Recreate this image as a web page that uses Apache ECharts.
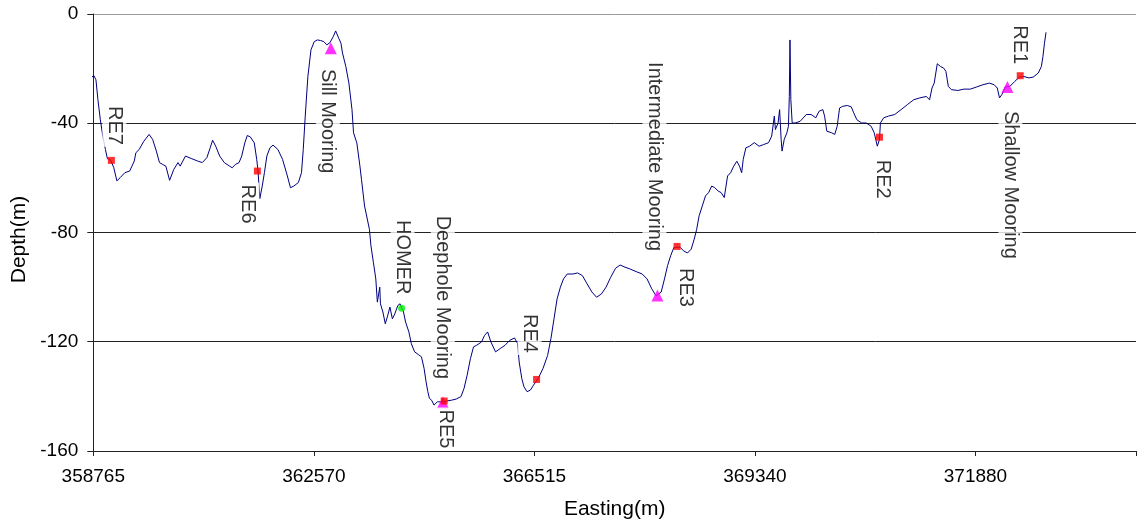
<!DOCTYPE html>
<html><head><meta charset="utf-8">
<script src="https://cdn.jsdelivr.net/npm/echarts@6/dist/echarts.min.js"></script>
<style>html,body{margin:0;padding:0;background:#fff}#c{width:1139px;height:525px}</style>
</head><body><div id="c"></div>
<script>
// x values are positions along the section in "tick" units (one unit between labelled ticks)
const tickLabels = ['358765', '362570', '366515', '369340', '371880'];

const profileX = [
-0.026,-0.007,0.003,0.012,0.021,0.032,0.043,0.055,0.064,0.079,0.093,0.107,0.122,0.143,0.165,0.172,0.186,0.193,0.208,0.229,
0.253,0.269,0.286,0.300,0.315,0.329,0.346,0.365,0.384,0.394,0.403,0.418,0.444,0.472,0.494,0.515,0.530,0.541,0.555,0.573,
0.594,0.618,0.630,0.644,0.661,0.673,0.687,0.698,0.712,0.730,0.741,0.747,0.755,0.766,0.776,0.787,0.801,0.815,0.837,0.858,
0.880,0.894,0.909,0.930,0.944,0.952,0.961,0.973,0.987,1.002,1.016,1.030,1.045,1.059,1.073,1.088,1.099,1.113,1.123,1.130,
1.145,1.159,1.173,1.180,1.195,1.209,1.216,1.230,1.252,1.259,1.270,1.281,1.288,1.299,1.302,1.313,1.324,1.333,1.345,1.356,
1.367,1.381,1.391,1.398,1.405,1.416,1.431,1.442,1.457,1.474,1.488,1.500,1.509,1.517,1.524,1.534,1.545,1.560,1.581,1.603,
1.624,1.645,1.667,1.681,1.695,1.710,1.724,1.738,1.760,1.774,1.788,1.803,1.824,1.845,1.867,1.888,1.910,1.924,1.931,1.943,
1.953,1.967,1.982,1.996,2.017,2.039,2.060,2.075,2.089,2.103,2.118,2.132,2.149,2.175,2.196,2.218,2.239,2.261,2.282,2.304,
2.325,2.346,2.368,2.389,2.411,2.432,2.461,2.489,2.511,2.532,2.552,2.575,2.590,2.604,2.618,2.633,2.661,2.676,2.694,2.711,
2.725,2.736,2.747,2.776,2.790,2.804,2.818,2.833,2.847,2.861,2.869,2.876,2.890,2.904,2.918,2.930,2.940,2.947,2.959,2.976,
2.997,3.019,3.040,3.062,3.076,3.088,3.093,3.105,3.112,3.119,3.123,3.133,3.145,3.152,3.156,3.159,3.163,3.169,3.183,3.205,
3.233,3.255,3.276,3.291,3.308,3.316,3.326,3.348,3.362,3.373,3.384,3.398,3.419,3.437,3.448,3.462,3.484,3.505,3.527,3.541,
3.555,3.565,3.569,3.584,3.605,3.634,3.663,3.691,3.720,3.748,3.777,3.792,3.803,3.813,3.827,3.841,3.856,3.866,3.877,3.891,
3.920,3.948,3.977,4.006,4.034,4.063,4.085,4.099,4.109,4.120,4.135,4.156,4.178,4.199,4.220,4.242,4.262,4.285,4.299,4.306,
4.313,4.320
];
const profileDepth = [
-24.7,-23.1,-22.6,-24.1,-31.4,-38.7,-44.7,-49.6,-53.0,-53.6,-56.3,-61.1,-59.9,-58.1,-57.5,-56.9,-53.8,-50.8,-49.6,-46.6,
-44.1,-45.9,-50.2,-54.4,-55.1,-55.7,-60.9,-56.9,-54.4,-55.7,-55.7,-52.0,-52.9,-53.8,-54.4,-52.6,-49.0,-46.2,-48.4,-52.0,
-54.4,-55.7,-56.3,-55.1,-54.4,-52.0,-47.2,-44.5,-45.0,-47.2,-53.2,-57.5,-67.6,-63.0,-58.1,-52.0,-49.0,-48.0,-49.6,-53.2,
-59.3,-63.6,-63.0,-61.7,-58.1,-49.6,-37.4,-22.9,-13.1,-10.1,-9.5,-9.7,-10.1,-11.3,-10.5,-8.3,-6.2,-8.9,-10.7,-14.3,
-19.2,-25.3,-35.0,-43.5,-47.2,-55.7,-60.5,-70.3,-78.8,-84.9,-90.9,-97.0,-105.5,-100.0,-106.1,-109.1,-113.4,-111.0,-107.3,-111.6,
-109.8,-106.7,-106.1,-107.7,-108.5,-112.8,-116.4,-120.7,-123.7,-124.7,-125.5,-129.8,-134.7,-138.3,-140.7,-141.4,-143.2,-142.0,-142.0,-141.7,
-141.4,-141.0,-140.1,-137.1,-132.3,-126.2,-121.9,-121.3,-120.1,-117.7,-116.4,-120.1,-123.7,-122.5,-121.3,-119.5,-118.6,-120.7,-127.4,-133.5,
-136.5,-138.3,-137.7,-135.9,-133.5,-129.8,-125.0,-118.9,-111.6,-104.3,-100.0,-97.0,-95.2,-95.2,-94.8,-95.8,-98.8,-101.8,-103.7,-102.5,
-100.0,-96.4,-93.1,-91.9,-92.7,-93.3,-94.3,-95.2,-97.0,-100.6,-103.2,-101.8,-97.0,-92.1,-88.5,-85.4,-85.4,-86.7,-87.5,-86.1,
-82.4,-78.8,-73.9,-66.6,-65.4,-63.0,-63.6,-64.8,-65.4,-67.2,-63.0,-59.3,-58.1,-55.7,-53.9,-55.7,-58.1,-53.2,-49.0,-48.4,
-47.1,-48.4,-47.8,-47.1,-44.7,-37.4,-42.3,-39.9,-35.0,-45.9,-50.2,-45.9,-43.5,-41.1,-30.2,-9.5,-31.4,-39.9,-39.9,-39.3,
-36.8,-36.8,-38.0,-35.6,-35.0,-37.4,-42.9,-43.5,-44.1,-41.1,-34.4,-33.8,-33.5,-34.0,-36.2,-38.7,-39.9,-39.9,-41.1,-43.5,
-48.4,-45.9,-39.9,-38.0,-37.4,-36.8,-35.0,-33.2,-31.4,-30.7,-30.2,-31.4,-27.1,-25.3,-18.2,-19.2,-19.8,-21.0,-26.5,-27.7,
-28.0,-27.5,-27.5,-26.7,-25.9,-25.3,-25.9,-27.1,-30.7,-29.5,-26.7,-26.5,-24.7,-23.1,-22.9,-23.4,-23.1,-21.6,-19.2,-15.6,
-10.7,-6.7
];

const reNames = ['RE7', 'RE6', 'RE5', 'RE4', 'RE3', 'RE2', 'RE1'];
const reX = [0.082, 0.744, 1.591, 2.010, 2.647, 3.565, 4.203];
const reDepth = [-53.6, -57.5, -141.7, -133.8, -85.1, -45.1, -22.6];

const mooringNames = ['Sill Mooring', 'Deephole Mooring', 'Intermediate Mooring', 'Shallow Mooring'];
const mooringX = [1.077, 1.585, 2.558, 4.145];
const mooringDepth = [-12.5, -142.2, -103.1, -26.7];

const homerNames = ['HOMER'];
const homerX = [1.398];
const homerDepth = [-107.7];

// label placement (pixel offsets of label centre from marker centre)
const reLabelOffset = [[3,-35],[-10,33],[1,28],[-7,-46],[8,41],[3,42],[-1,-31]];
const mooringLabelOffset = [[-3,73],[0,-105],[-3,-139],[3,98]];
const homerLabelOffset = [[1,-51]];

const FONT = '"Liberation Sans", Arial, sans-serif';

function markerData(names, xs, ds, offs, size) {
  return names.map((n, i) => ({
    name: n,
    value: [xs[i], ds[i]],
    label: { position: [size / 2 + offs[i][0], size / 2 + offs[i][1]] }
  }));
}
const markerLabel = {
  show: true, formatter: '{b}', rotate: -90, align: 'center', verticalAlign: 'middle',
  fontSize: 20, fontFamily: FONT, color: '#000', backgroundColor: '#fff', padding: [2, 2]
};

const chart = echarts.init(document.getElementById('c'), null, { renderer: 'canvas' });
chart.setOption({
  animation: false,
  backgroundColor: '#fff',
  grid: { left: 93.3, top: 14, bottom: 72.3, right: -55.9, containLabel: false },
  xAxis: {
    type: 'value', min: 0, max: 4.728, interval: 1,
    name: 'Easting(m)', nameLocation: 'middle', nameGap: 48,
    nameTextStyle: { fontSize: 21, fontFamily: FONT, color: '#000' },
    axisLine: { show: true, onZero: false, lineStyle: { color: '#222', width: 1 } },
    axisTick: { show: true, length: 5, lineStyle: { color: '#222' } },
    axisLabel: {
      fontSize: 19, fontFamily: FONT, color: '#000', margin: 16,
      formatter: v => { const r = Math.round(v); return Math.abs(v - r) < 1e-6 && tickLabels[r] !== undefined ? tickLabels[r] : ''; }
    },
    splitLine: { show: false }
  },
  yAxis: {
    type: 'value', min: -160, max: 0, interval: 40,
    name: 'Depth(m)', nameLocation: 'middle', nameGap: 60,
    nameTextStyle: { fontSize: 21, fontFamily: FONT, color: '#000', padding: [0, 14, 0, 0] },
    axisLine: { show: true, lineStyle: { color: '#222', width: 1 } },
    axisTick: { show: true, length: 6, lineStyle: { color: '#222' } },
    axisLabel: { fontSize: 19, fontFamily: FONT, color: '#000', margin: 15 },
    splitLine: { show: true, lineStyle: { color: ['#222', '#222', '#222', '#222', '#9a9a9a'], width: 1 } }
  },
  series: [
    {
      type: 'line', name: 'profile', data: profileX.map((x, i) => [x, profileDepth[i]]),
      showSymbol: false, symbol: 'none', clip: false, z: 2,
      lineStyle: { color: '#000080', width: 1 }
    },
    {
      type: 'scatter', name: 'moorings', symbol: 'triangle', symbolSize: 12, z: 3,
      itemStyle: { color: '#FF00FF' },
      label: markerLabel,
      data: markerData(mooringNames, mooringX, mooringDepth, mooringLabelOffset, 12)
    },
    {
      type: 'scatter', name: 'HOMER', symbol: 'circle', symbolSize: 7, z: 3,
      itemStyle: { color: '#00EE00' },
      label: markerLabel,
      data: markerData(homerNames, homerX, homerDepth, homerLabelOffset, 7)
    },
    {
      type: 'scatter', name: 'RE', symbol: 'rect', symbolSize: 7, z: 4,
      itemStyle: { color: '#FF0000' },
      label: markerLabel,
      data: markerData(reNames, reX, reDepth, reLabelOffset, 7)
    }
  ]
});
</script>
</body></html>
